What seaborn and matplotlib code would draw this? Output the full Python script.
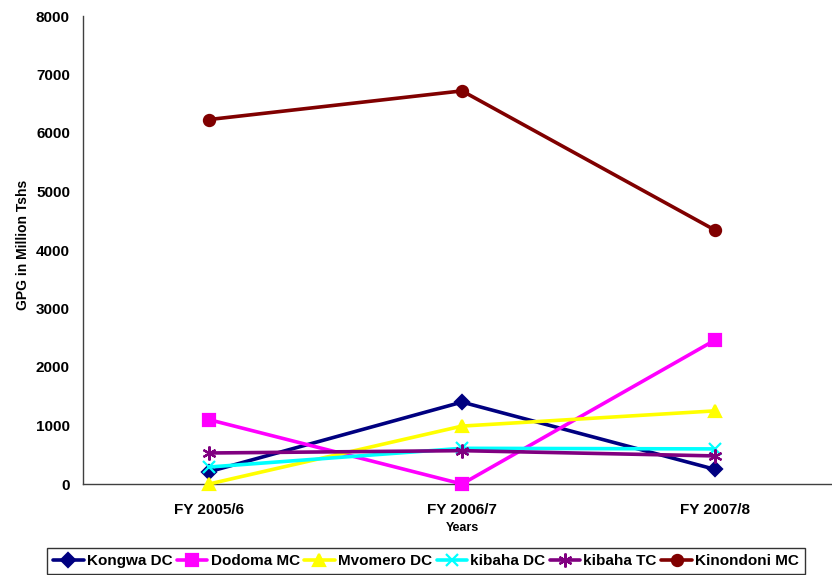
import matplotlib
matplotlib.use("Agg")
import matplotlib.pyplot as plt
from matplotlib.ticker import FixedLocator, NullFormatter
import seaborn as sns
import pandas as pd

years = ["FY 2005/6", "FY 2006/7", "FY 2007/8"]
kongwa_dc = [210, 1400, 250]
dodoma_mc = [1100, 0, 2460]
mvomero_dc = [0, 990, 1250]
kibaha_dc = [290, 610, 600]
kibaha_tc = [530, 570, 480]
kinondoni_mc = [6230, 6720, 4340]

series = [
    ("Kongwa DC", kongwa_dc, "#000080", "D", 7),
    ("Dodoma MC", dodoma_mc, "#FF00FF", "s", 9),
    ("Mvomero DC", mvomero_dc, "#FFFF00", "^", 9),
    ("kibaha DC", kibaha_dc, "#00FFFF", "x", 9),
    ("kibaha TC", kibaha_tc, "#800080", (6, 2, 0), 10),
    ("Kinondoni MC", kinondoni_mc, "#800000", "o", 8),
]

sns.set_style("white", {"text.color": "black", "axes.labelcolor": "black",
                        "xtick.color": "black", "ytick.color": "black"})
plt.rcParams["font.family"] = ["Liberation Sans", "DejaVu Sans"]
plt.rcParams["font.weight"] = "bold"

W, H = 832, 575
fig = plt.figure(figsize=(W / 100, H / 100), dpi=100)
left, right, top, bottom = 82.5, 841.5, 16, 484
ax = fig.add_axes([left / W, (H - bottom) / H, (right - left) / W, (bottom - top) / H])

xpos = list(range(len(years)))
handles = []
for name, vals, color, marker, ms in series:
    df = pd.DataFrame({"x": xpos, "y": vals})
    sns.lineplot(data=df, x="x", y="y", ax=ax, color=color, linewidth=2.6,
                 marker=marker, markersize=ms, markeredgecolor=color,
                 markeredgewidth=1.6, markerfacecolor=color, label=name,
                 legend=False, clip_on=False, zorder=3)
    handles.append(ax.lines[-1])

ax.set_xlim(-0.5, 2.5)
ax.set_ylim(0, 8000)
ax.set_yticks(range(0, 8001, 1000))
ax.set_xticks(xpos)
ax.set_xticklabels(years)
ax.xaxis.set_minor_locator(FixedLocator([0.5, 1.5]))
ax.xaxis.set_minor_formatter(NullFormatter())
ax.tick_params(axis="x", which="major", length=0, pad=14, labelsize=11, labelcolor="black")
ax.tick_params(axis="x", which="minor", length=5, width=1, color="#404040", direction="out")
ax.tick_params(axis="y", length=5, width=1, color="#404040", direction="out", labelsize=11,
               pad=4, labelcolor="black")
for lab in ax.get_xticklabels() + ax.get_yticklabels():
    lab.set_fontweight("bold")

for s in ["top", "right"]:
    ax.spines[s].set_visible(False)
for s in ["left", "bottom"]:
    ax.spines[s].set_color("#404040")
    ax.spines[s].set_linewidth(1.0)

ax.set_xlabel("Years", fontsize=9, fontweight="bold", labelpad=3, color="black")
ax.set_ylabel("GPG in Million Tshs", fontsize=10, fontweight="bold", labelpad=1, color="black")
ax.yaxis.set_label_coords(-52 / (right - left), 0.51)

leg = fig.legend(handles=handles, labels=[s[0] for s in series], loc="lower center",
                 bbox_to_anchor=(426 / W, 0.001), ncol=6, frameon=True, fancybox=False,
                 edgecolor="black", fontsize=11, handlelength=2.0, handletextpad=0.2,
                 columnspacing=0.3, borderpad=0.4, borderaxespad=0)
leg.get_frame().set_linewidth(1.0)
for t in leg.get_texts():
    t.set_fontweight("bold")
    t.set_color("black")

fig.savefig("out.png", dpi=100)
